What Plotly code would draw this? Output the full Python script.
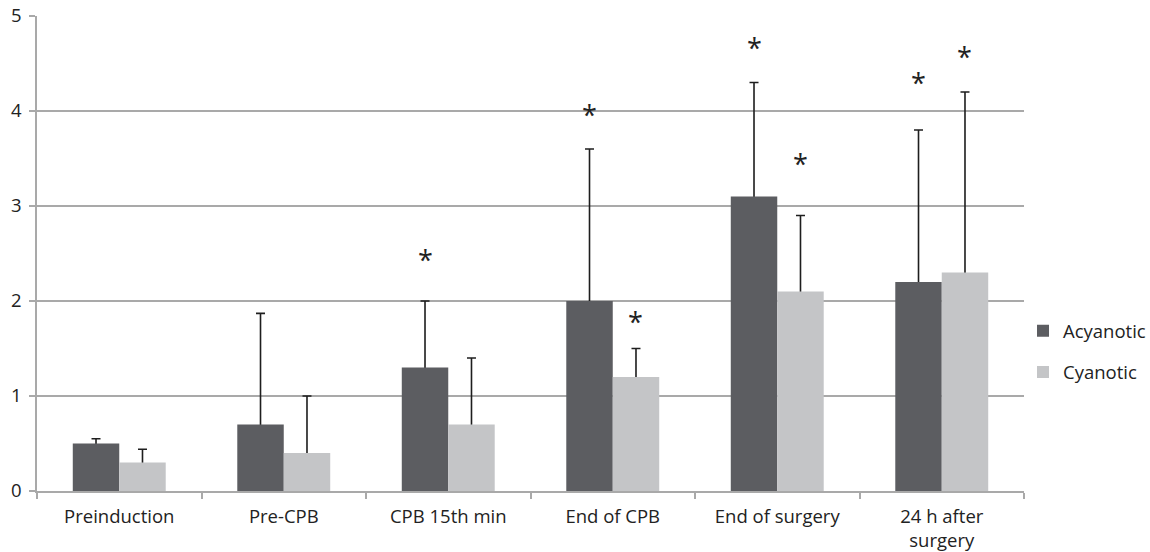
import plotly.graph_objects as go

categories = ["Preinduction", "Pre-CPB", "CPB 15th min", "End of CPB", "End of surgery", "24 h after<br>surgery"]
acyanotic = [0.5, 0.7, 1.3, 2.0, 3.1, 2.2]
acyanotic_err = [0.05, 1.17, 0.7, 1.6, 1.2, 1.6]
cyanotic = [0.3, 0.4, 0.7, 1.2, 2.1, 2.3]
cyanotic_err = [0.14, 0.6, 0.7, 0.3, 0.8, 1.9]
# heights of the significance asterisks (None = no marker)
acyanotic_star = [None, None, 2.46, 3.98, 4.69, 4.32]
cyanotic_star = [None, None, None, 1.81, 3.47, 4.60]

C_ACY = "#5c5d61"
C_CYA = "#c4c5c7"
FONT = "Open Sans"
TXT = "#222222"
GRID = "#a9a9a9"
FS = 18.5

W, H = 1150, 552
ML, MR, MT, MB = 37, 126, 16, 61
BARGAP = 0.435
cat_px = (W - ML - MR) / len(categories)
bar_px = cat_px * (1 - BARGAP) / 2

fig = go.Figure()

# error bars (drawn first so the lower end is hidden by the bars)
for name, vals, errs, grp in [("Acyanotic", acyanotic, acyanotic_err, "a"),
                              ("Cyanotic", cyanotic, cyanotic_err, "c")]:
    fig.add_trace(go.Bar(
        x=categories, y=vals, offsetgroup=grp, showlegend=False, hoverinfo="skip",
        marker=dict(color="rgba(0,0,0,0)", line=dict(width=0)),
        error_y=dict(type="data", symmetric=False, array=errs,
                     arrayminus=[min(0.05, v) for v in vals],
                     color="#1e1e1e", thickness=1.6, width=4.5),
    ))

fig.add_trace(go.Bar(x=categories, y=acyanotic, name="Acyanotic", offsetgroup="a",
                     legendgroup="a", marker=dict(color=C_ACY, line=dict(width=0))))
fig.add_trace(go.Bar(x=categories, y=cyanotic, name="Cyanotic", offsetgroup="c",
                     legendgroup="c", marker=dict(color=C_CYA, line=dict(width=0))))

annotations = []
for stars, sign in [(acyanotic_star, -1), (cyanotic_star, 1)]:
    for cat, v in zip(categories, stars):
        if v is None:
            continue
        annotations.append(dict(x=cat, y=v, xref="x", yref="y", text="*", showarrow=False,
                                xshift=sign * bar_px / 2, yshift=-2, yanchor="middle",
                                font=dict(family=FONT, size=27, color=TXT)))

fig.update_layout(
    width=W, height=H,
    margin=dict(l=ML, r=MR, t=MT, b=MB, autoexpand=False),
    paper_bgcolor="white", plot_bgcolor="white",
    barmode="group", bargap=BARGAP, bargroupgap=0,
    font=dict(family=FONT, size=FS, color=TXT),
    showlegend=True,
    legend=dict(x=0.999, xanchor="left", y=0.293, yanchor="middle",
                font=dict(family=FONT, size=FS, color=TXT),
                tracegroupgap=14, bgcolor="rgba(0,0,0,0)"),
    annotations=annotations,
)
fig.update_xaxes(showline=True, linecolor=GRID, linewidth=1.5, ticks="outside",
                 tickson="boundaries", ticklen=6, tickcolor=GRID, tickwidth=1.5,
                 showgrid=False, ticklabelstandoff=8, automargin=False,
                 tickfont=dict(family=FONT, size=FS, color=TXT))
fig.update_yaxes(range=[0, 5], dtick=1, showline=True, linecolor=GRID, linewidth=1.5,
                 ticks="outside", ticklen=6, tickcolor=GRID, tickwidth=1.5,
                 showgrid=True, gridcolor=GRID, gridwidth=1.5, zeroline=False,
                 ticklabelstandoff=4, automargin=False,
                 tickfont=dict(family=FONT, size=FS, color=TXT))

fig.write_html("out.html", config={"displayModeBar": False},
               post_script="document.body.style.margin='0';document.body.style.overflow='hidden';")
